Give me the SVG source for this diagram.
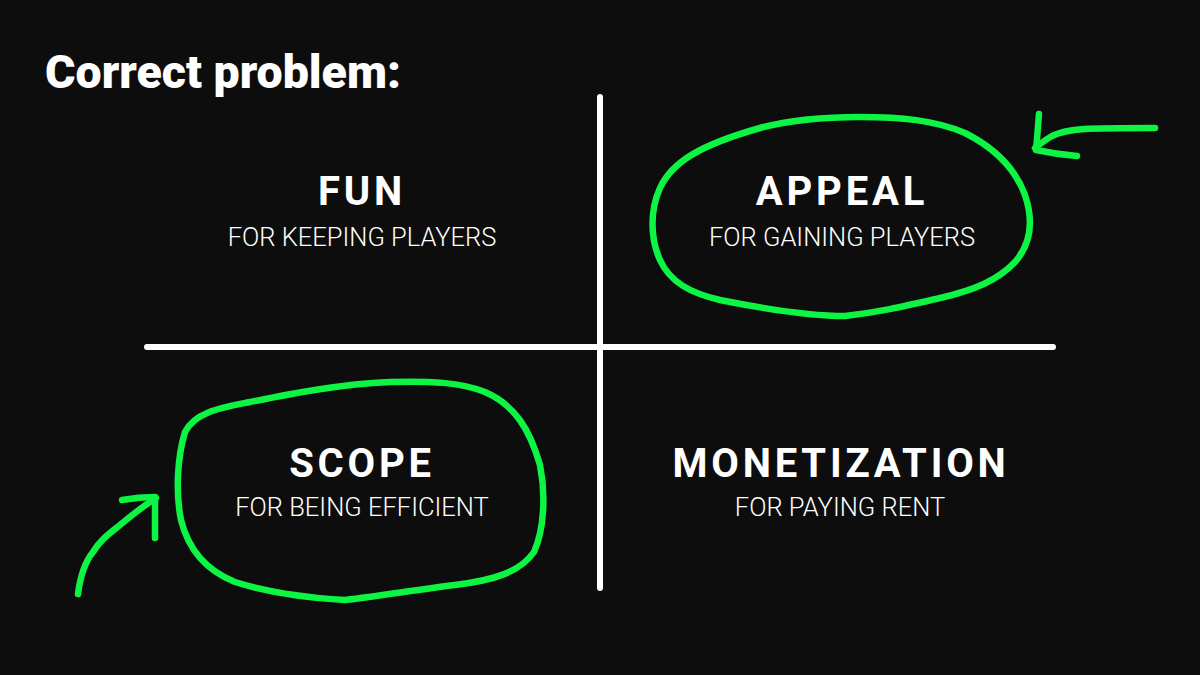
<svg xmlns="http://www.w3.org/2000/svg" width="1200" height="675" viewBox="0 0 1200 675">
<style>
.h{font-family:Roboto,"Liberation Sans",sans-serif;font-weight:700;font-size:40px;letter-spacing:3.8px;fill:#fff;text-anchor:middle}
.s{font-family:Roboto,"Liberation Sans",sans-serif;font-weight:300;font-size:25.5px;fill:#fff;text-anchor:middle}
.t{font-family:Roboto,"Liberation Sans",sans-serif;font-weight:900;font-size:46.5px;fill:#fff}
.ax{stroke:#fff;stroke-width:6;stroke-linecap:round}
.g{fill:none;stroke:#0ef442;stroke-width:6.5;stroke-linecap:round;stroke-linejoin:round}
</style>
<rect width="1200" height="675" fill="#0d0d0d"/>
<text class="t" x="45" y="88">Correct problem:</text>
<g id="axes">
<line class="ax" x1="600" y1="97" x2="600" y2="588"/>
<line class="ax" x1="147" y1="347" x2="1053" y2="347"/>
</g>
<g id="fun"><text class="h" x="362" y="205">FUN</text><text class="s" x="362" y="246">FOR KEEPING PLAYERS</text></g>
<g id="appeal"><text class="h" x="842" y="205">APPEAL</text><text class="s" x="842" y="246">FOR GAINING PLAYERS</text></g>
<g id="scope"><text class="h" x="362" y="477">SCOPE</text><text class="s" x="362" y="516">FOR BEING EFFICIENT</text></g>
<g id="monetization"><text class="h" x="841" y="477">MONETIZATION</text><text class="s" x="840" y="516">FOR PAYING RENT</text></g>
<g id="annotations">
<path class="g" d="M760,128 C790,120 820,117 860,117 C900,117 935,120 965,133 C995,148 1015,168 1025,195 C1034,222 1030,245 1015,262 C998,280 975,290 940,298 C905,306 880,312 845,316 C810,316 760,308 720,300 C690,293 670,282 660,260 C650,238 650,210 660,188 C672,162 700,145 760,128 Z"/>
<path class="g" d="M1155,128 C1130,128 1100,128 1084,129 C1070,130 1060,132 1052,136 C1045,140 1040,144 1035,148"/>
<path class="g" d="M1039,114 C1038,126 1037,140 1036,150 C1050,153 1065,155 1077,156"/>
<path class="g" d="M345,600 C310,598 270,593 235,582 C205,570 188,548 181,520 C175,490 178,455 185,432 C195,412 220,408 250,402 C290,394 340,384 390,382 C430,381 460,382 485,392 C515,405 530,430 540,465 C546,495 544,530 534,552 C520,572 495,580 455,585 C415,590 380,596 345,600 Z"/>
<path class="g" d="M78,594 C80,578 85,562 93,552 C100,540 110,533 120,525 C132,515 145,505 156,498"/>
<path class="g" d="M122,500 C133,498 145,497 155,497 C155,512 155,525 155,538"/>
</g>
</svg>
